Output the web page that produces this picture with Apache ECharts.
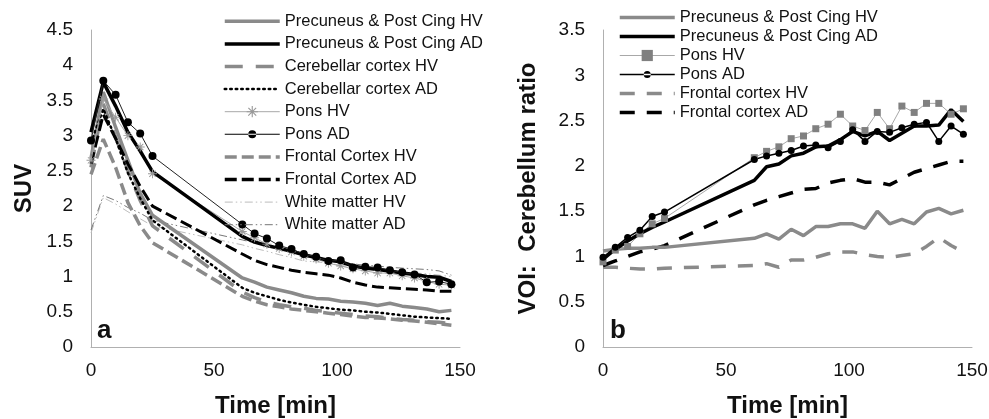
<!DOCTYPE html>
<html>
<head>
<meta charset="utf-8">
<script src="https://cdn.jsdelivr.net/npm/echarts@6/dist/echarts.min.js"></script>
<style>
  html, body { margin: 0; padding: 0; background: #fff; }
  #main { width: 989px; height: 419px; }
</style>
</head>
<body>
<div id="main"></div>
<script>
// frame mid-times in minutes
var timeMin = [0, 5, 10, 15, 20, 25, 61.5, 66.5, 71.5, 76.5, 81.5, 86.5, 91.5, 96.5, 101.5,
  106.5, 111.5, 116.5, 121.5, 126.5, 131.5, 136.5, 141.5, 146.5];

// panel a: SUV
var precHV_suv = [2.68, 3.62, 3.12, 2.65, 2.18, 1.87, 0.98, 0.92, 0.85, 0.81, 0.77, 0.72, 0.69, 0.68, 0.65, 0.64, 0.62, 0.59, 0.62, 0.58, 0.56, 0.54, 0.50, 0.52];
var precAD_suv = [3.05, 3.76, 3.42, 3.05, 2.78, 2.49, 1.57, 1.49, 1.44, 1.40, 1.36, 1.31, 1.27, 1.23, 1.21, 1.15, 1.12, 1.10, 1.08, 1.05, 1.03, 1.00, 0.99, 0.93];
var cerHV_suv = [2.55, 3.45, 2.98, 2.50, 2.08, 1.72, 0.78, 0.70, 0.64, 0.60, 0.57, 0.55, 0.52, 0.50, 0.48, 0.46, 0.44, 0.43, 0.41, 0.39, 0.38, 0.36, 0.35, 0.33];
var cerAD_suv = [2.90, 3.38, 2.96, 2.47, 2.11, 1.80, 0.84, 0.77, 0.72, 0.67, 0.63, 0.60, 0.57, 0.55, 0.53, 0.52, 0.50, 0.49, 0.47, 0.45, 0.43, 0.42, 0.41, 0.40];
var ponsHV_suv = [2.65, 3.52, 3.26, 3.00, 2.84, 2.46, 1.64, 1.55, 1.46, 1.40, 1.35, 1.29, 1.25, 1.19, 1.15, 1.11, 1.08, 1.05, 1.05, 1.01, 0.98, 0.93, 0.89, 0.88];
var ponsAD_suv = [2.93, 3.78, 3.58, 3.19, 3.03, 2.71, 1.74, 1.61, 1.54, 1.44, 1.39, 1.32, 1.28, 1.22, 1.23, 1.13, 1.14, 1.13, 1.09, 1.06, 1.03, 0.92, 0.93, 0.89];
var frontHV_suv = [2.45, 2.95, 2.55, 2.05, 1.72, 1.48, 0.72, 0.65, 0.60, 0.57, 0.54, 0.52, 0.50, 0.48, 0.46, 0.44, 0.42, 0.41, 0.40, 0.38, 0.37, 0.35, 0.33, 0.31];
var frontAD_suv = [2.60, 3.30, 2.96, 2.60, 2.28, 2.00, 1.32, 1.23, 1.17, 1.13, 1.09, 1.06, 1.04, 1.02, 0.98, 0.92, 0.88, 0.85, 0.84, 0.83, 0.82, 0.81, 0.79, 0.79];
var wmHV_suv = [1.62, 2.12, 2.03, 1.92, 1.82, 1.72, 1.45, 1.40, 1.36, 1.31, 1.27, 1.22, 1.21, 1.19, 1.16, 1.13, 1.12, 1.10, 1.08, 1.07, 1.05, 1.04, 1.02, 1.00];
var wmAD_suv = [1.66, 2.15, 2.08, 1.98, 1.90, 1.80, 1.52, 1.48, 1.45, 1.40, 1.36, 1.32, 1.28, 1.24, 1.21, 1.18, 1.16, 1.15, 1.13, 1.12, 1.11, 1.10, 1.08, 1.02];

// panel b: VOI / cerebellum ratio
var precHV_ratio = [1.06, 1.08, 1.09, 1.09, 1.10, 1.10, 1.20, 1.25, 1.19, 1.30, 1.23, 1.33, 1.33, 1.36, 1.36, 1.31, 1.50, 1.36, 1.41, 1.36, 1.49, 1.53, 1.47, 1.51];
var precAD_ratio = [0.97, 1.08, 1.17, 1.25, 1.32, 1.38, 1.84, 1.99, 2.02, 2.11, 2.14, 2.21, 2.22, 2.29, 2.38, 2.33, 2.38, 2.28, 2.36, 2.44, 2.44, 2.45, 2.62, 2.49];
var ponsHV_ratio = [0.94, 1.07, 1.11, 1.25, 1.36, 1.42, 2.09, 2.16, 2.21, 2.30, 2.33, 2.41, 2.46, 2.57, 2.44, 2.39, 2.59, 2.41, 2.66, 2.59, 2.69, 2.69, 2.57, 2.63];
var ponsAD_ratio = [0.99, 1.10, 1.21, 1.29, 1.44, 1.49, 2.07, 2.11, 2.14, 2.17, 2.22, 2.23, 2.20, 2.27, 2.40, 2.27, 2.38, 2.37, 2.42, 2.46, 2.48, 2.27, 2.44, 2.35];
var frontHV_ratio = [0.88, 0.88, 0.87, 0.86, 0.86, 0.87, 0.90, 0.92, 0.88, 0.96, 0.96, 0.99, 1.03, 1.05, 1.05, 1.02, 1.00, 0.99, 1.01, 1.03, 1.11, 1.21, 1.12, 1.05];
var frontAD_ratio = [0.90, 0.95, 1.00, 1.05, 1.08, 1.12, 1.57, 1.62, 1.66, 1.70, 1.74, 1.75, 1.81, 1.84, 1.86, 1.82, 1.82, 1.79, 1.86, 1.93, 1.97, 2.01, 2.05, 2.05];

var FONT = 'Arial, "Liberation Sans", sans-serif';
var GRAY = '#8a8a8a';
var asterisk = 'path://M4.5,0h1v10h-1z M0,4.5h10v1h-10z M1.2,1.9l0.7,-0.7l7,7l-0.7,0.7z M8.1,1.2l0.7,0.7l-7,7l-0.7,-0.7z';
// legend icons: thin line with a dot in the middle
var iconDotA = 'path://M0,3.5h55v1h-55z M23.5,4a4,4 0 1,0 8,0a4,4 0 1,0 -8,0z';
var iconDotB = 'path://M0,3.2h55v1.6h-55z M24,4a3.5,3.5 0 1,0 7,0a3.5,3.5 0 1,0 -7,0z';

function pairs(ys) {
  return timeMin.map(function (t, i) { return [t, ys[i]]; });
}

function line(name, idx, ys, style, extra) {
  var s = {
    name: name,
    type: 'line',
    xAxisIndex: idx,
    yAxisIndex: idx,
    data: pairs(ys),
    symbol: 'none',
    lineStyle: style,
    itemStyle: { color: style.color },
    animation: false
  };
  if (extra) { for (var k in extra) s[k] = extra[k]; }
  return s;
}

// legend entry without a marker, with its own line width
function plain(name, w) {
  return { name: name, itemStyle: { opacity: 0 }, lineStyle: { width: w } };
}

function xAxis(idx) {
  return {
    gridIndex: idx, type: 'value', min: 0, max: 150, interval: 50,
    name: 'Time [min]', nameLocation: 'middle', nameGap: 47,
    nameTextStyle: { fontFamily: FONT, fontSize: 24, fontWeight: 'bold', color: '#111' },
    axisLine: { show: true, lineStyle: { color: '#b0b0b0', width: 1 } },
    axisTick: { show: false },
    splitLine: { show: false },
    axisLabel: { fontFamily: FONT, fontSize: 19, color: '#111', margin: 14 }
  };
}

var myChart = echarts.init(document.getElementById('main'));

var option = {
  backgroundColor: '#fff',
  title: [
    { text: 'a', left: 97, top: 318, padding: 0, textStyle: { fontFamily: FONT, fontSize: 26, fontWeight: 'bold', color: '#111' } },
    { text: 'b', left: 610, top: 318, padding: 0, textStyle: { fontFamily: FONT, fontSize: 26, fontWeight: 'bold', color: '#111' } }
  ],
  grid: [
    { left: 91, top: 30, width: 369, height: 317, outerBoundsMode: 'none' },
    { left: 603, top: 30, width: 369, height: 317, outerBoundsMode: 'none' }
  ],
  xAxis: [xAxis(0), xAxis(1)],
  yAxis: [
    {
      gridIndex: 0, type: 'value', min: 0, max: 4.5, interval: 0.5,
      name: 'SUV', nameLocation: 'middle', nameGap: 55, nameRotate: 90,
      nameTextStyle: { fontFamily: FONT, fontSize: 24, fontWeight: 'bold', color: '#111' },
      axisLine: { show: true, lineStyle: { color: '#b0b0b0', width: 1 } },
      axisTick: { show: false }, splitLine: { show: false },
      axisLabel: { fontFamily: FONT, fontSize: 19, color: '#111', margin: 18 }
    },
    {
      gridIndex: 1, type: 'value', min: 0, max: 3.5, interval: 0.5,
      name: 'VOI:  Cerebellum ratio', nameLocation: 'middle', nameGap: 63, nameRotate: 90,
      nameTextStyle: { fontFamily: FONT, fontSize: 24, fontWeight: 'bold', color: '#111' },
      axisLine: { show: true, lineStyle: { color: '#b0b0b0', width: 1 } },
      axisTick: { show: false }, splitLine: { show: false },
      axisLabel: { fontFamily: FONT, fontSize: 19, color: '#111', margin: 18 }
    }
  ],
  legend: [
    {
      orient: 'vertical', left: 223, top: 10, padding: 0,
      itemWidth: 55, itemHeight: 14, itemGap: 0,
      textStyle: { fontFamily: FONT, fontSize: 16.5, color: '#111', lineHeight: 22.6 },
      data: [plain('Precuneus & Post Cing HV', 3.5), plain('Precuneus & Post Cing AD', 3.5),
        plain('Cerebellar cortex HV', 3.5), plain('Cerebellar cortex AD', 2.5),
        { name: 'Pons HV', lineStyle: { width: 1 } }, { name: 'Pons AD', icon: iconDotA },
        plain('Frontal Cortex HV', 3.5), plain('Frontal Cortex AD', 3.5),
        plain('White matter HV', 1), plain('White matter AD', 1)],
      selectedMode: false
    },
    {
      orient: 'vertical', left: 618, top: 8, padding: 0,
      itemWidth: 55, itemHeight: 14, itemGap: 0,
      textStyle: { fontFamily: FONT, fontSize: 16.5, color: '#111', lineHeight: 19 },
      formatter: function (n) { return n.replace(/^b:/, ''); },
      data: [plain('b:Precuneus & Post Cing HV', 3.5), plain('b:Precuneus & Post Cing AD', 3.5),
        { name: 'b:Pons HV', lineStyle: { width: 1 } }, { name: 'b:Pons AD', icon: iconDotB },
        plain('b:Frontal cortex HV', 3.5), plain('b:Frontal cortex AD', 3.5)],
      selectedMode: false
    }
  ],
  series: [
    // panel a
    line('White matter HV', 0, wmHV_suv, { color: '#bdbdbd', width: 1, type: [8, 3, 1.5, 3, 1.5, 3] }),
    line('White matter AD', 0, wmAD_suv, { color: '#777', width: 1, type: [8, 3, 1.5, 3, 1.5, 3] }),
    line('Cerebellar cortex HV', 0, cerHV_suv, { color: GRAY, width: 3.5, type: [18, 13] }),
    line('Frontal Cortex HV', 0, frontHV_suv, { color: GRAY, width: 3.5, type: [12, 5] }),
    line('Precuneus & Post Cing HV', 0, precHV_suv, { color: GRAY, width: 3.5, type: 'solid' }),
    line('Cerebellar cortex AD', 0, cerAD_suv, { color: '#000', width: 2.5, type: [1.5, 4], cap: 'round' }),
    line('Frontal Cortex AD', 0, frontAD_suv, { color: '#000', width: 3, type: [12, 5] }),
    line('Pons HV', 0, ponsHV_suv, { color: '#a8a8a8', width: 1, type: 'solid' },
      { symbol: asterisk, symbolSize: 9, showSymbol: true, itemStyle: { color: '#999' } }),
    line('Precuneus & Post Cing AD', 0, precAD_suv, { color: '#000', width: 3.5, type: 'solid' }),
    line('Pons AD', 0, ponsAD_suv, { color: '#222', width: 1, type: 'solid' },
      { symbol: 'circle', symbolSize: 8, showSymbol: true, itemStyle: { color: '#000' } }),

    // panel b
    line('b:Frontal cortex HV', 1, frontHV_ratio, { color: GRAY, width: 3.5, type: [15, 12] }),
    line('b:Frontal cortex AD', 1, frontAD_ratio, { color: '#000', width: 3.5, type: [15, 12] }),
    line('b:Precuneus & Post Cing HV', 1, precHV_ratio, { color: GRAY, width: 3.5, type: 'solid' }),
    line('b:Pons HV', 1, ponsHV_ratio, { color: '#a8a8a8', width: 1, type: 'solid' },
      { symbol: 'rect', symbolSize: 7, showSymbol: true, itemStyle: { color: '#808080' } }),
    line('b:Precuneus & Post Cing AD', 1, precAD_ratio, { color: '#000', width: 3.5, type: 'solid' }),
    line('b:Pons AD', 1, ponsAD_ratio, { color: '#000', width: 1.5, type: 'solid' },
      { symbol: 'circle', symbolSize: 7, showSymbol: true, itemStyle: { color: '#000' } })
  ]
};

myChart.setOption(option);
</script>
</body>
</html>
